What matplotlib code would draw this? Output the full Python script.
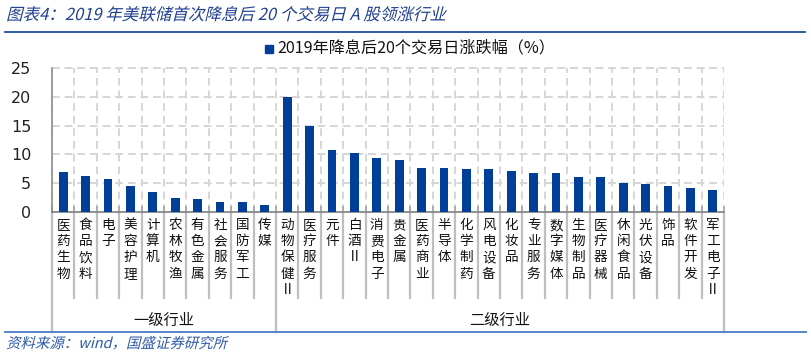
import matplotlib
matplotlib.use('Agg')
import matplotlib.pyplot as plt
from matplotlib.transforms import blended_transform_factory, Affine2D
from matplotlib.textpath import TextPath
from matplotlib.patches import PathPatch, Rectangle
from matplotlib.font_manager import FontProperties
from matplotlib.lines import Line2D

plt.rcParams['font.family'] = ['Noto Sans CJK SC', 'DejaVu Sans']

# data
level1 = ['医药生物', '食品饮料', '电子', '美容护理', '计算机', '农林牧渔',
          '有色金属', '社会服务', '国防军工', '传媒']
level1_vals = [7.0, 6.2, 5.7, 4.5, 3.4, 2.5, 2.2, 1.7, 1.7, 1.2]
level2 = ['动物保健Ⅱ', '医疗服务', '元件', '白酒Ⅱ', '消费电子', '贵金属',
          '医药商业', '半导体', '化学制药', '风电设备', '化妆品', '专业服务',
          '数字媒体', '生物制品', '医疗器械', '休闲食品', '光伏设备', '饰品',
          '软件开发', '军工电子Ⅱ']
level2_vals = [19.9, 14.9, 10.7, 10.2, 9.3, 9.1, 7.6, 7.6, 7.4, 7.4, 7.1,
               6.7, 6.7, 6.0, 6.0, 5.0, 4.8, 4.5, 4.1, 3.9]
groups = ['一级行业', '二级行业']
series_name = '2019年降息后20个交易日涨跌幅（%）'
title = '图表4：2019 年美联储首次降息后 20 个交易日 A 股领涨行业'
source = '资料来源：wind，国盛证券研究所'

labels = level1 + level2
vals = level1_vals + level2_vals
n = len(labels)

W, H, DPI = 811, 357, 100
fig = plt.figure(figsize=(W / DPI, H / DPI), dpi=DPI)

def fy(py):
    return 1 - py / H

ax = fig.add_axes([52 / W, fy(212), (724 - 52) / W, (212 - 68) / H])
bar_color = '#003F98'
ax.bar(range(n), vals, width=0.4, color=bar_color, zorder=3)
ax.set_xlim(-0.5, n - 0.5)
ax.set_ylim(0, 25)
ax.set_yticks([0, 5, 10, 15, 20, 25])
ax.set_yticklabels(['0', '5', '10', '15', '20', '25'], family='DejaVu Sans',
                   fontsize=11.5)
ax.tick_params(axis='y', length=0, pad=15, colors='#222222')
ax.set_xticks([i - 0.5 for i in range(n + 1)])
ax.set_xticklabels([])
ax.tick_params(axis='x', direction='in', length=4.5, width=1.2, color='#A6A6A6')
ax.grid(True, color='#D6D6D6', linestyle=(0, (4, 2.5)), linewidth=1.4, zorder=0)
for s in ['top', 'right']:
    ax.spines[s].set_visible(False)
ax.spines['left'].set_color('#8C8C8C')
ax.spines['bottom'].set_color('#808080')
ax.spines['left'].set_linewidth(1.2)
ax.spines['bottom'].set_linewidth(1.2)
ax.axhline(25, color='#D6D6D6', linestyle=(0, (4, 2.5)), linewidth=1.4, zorder=0, clip_on=False)

# category labels and separators
tr = blended_transform_factory(ax.transData, fig.transFigure)
for i, lbl in enumerate(labels):
    ax.text(i, fy(218), '\n'.join(lbl), transform=tr, ha='center', va='top',
            fontsize=9.8, linespacing=1.2, color='#111111')
for i in range(n + 1):
    xb = i - 0.5
    if i in (0, len(level1), n):
        y_end = 332
    else:
        y_end = 298
    ax.add_line(Line2D([xb, xb], [fy(212), fy(y_end)], transform=tr,
                       color='#BFBFBF', linewidth=1.6, clip_on=False))
ax.text((len(level1) - 1) / 2, fy(320), groups[0], transform=tr, ha='center',
        va='center', fontsize=11, color='#111111')
ax.text(len(level1) + (len(level2) - 1) / 2, fy(320), groups[1], transform=tr,
        ha='center', va='center', fontsize=11, color='#111111')

# legend
fig.add_artist(Rectangle((265 / W, fy(53)), 8 / W, 8 / H, transform=fig.transFigure,
                         color=bar_color))
fig.text(277 / W, fy(48), series_name, ha='left', va='center', fontsize=11.6,
         color='#111111')

# rules
fig.add_artist(Line2D([5 / W, 805 / W], [fy(32), fy(32)], color='#1F4E9A', linewidth=1.3))
fig.add_artist(Line2D([5 / W, 806 / W], [fy(332), fy(332)], color='#4A7CC7', linewidth=1.3))


def italic_text(s, px, py, size, color):
    fp = FontProperties(family='Noto Sans CJK SC', size=size)
    tp = TextPath((0, 0), s, prop=fp)
    t = Affine2D().skew_deg(14, 0).scale(DPI / 72).translate(px, H - py)
    fig.add_artist(PathPatch(tp, transform=t, facecolor=color, edgecolor='none'))


italic_text(title, 6, 20, 11.9, '#1F3F8F')
italic_text(source, 6, 348, 10.4, '#2E5AA8')

fig.savefig('out.png', dpi=DPI)
